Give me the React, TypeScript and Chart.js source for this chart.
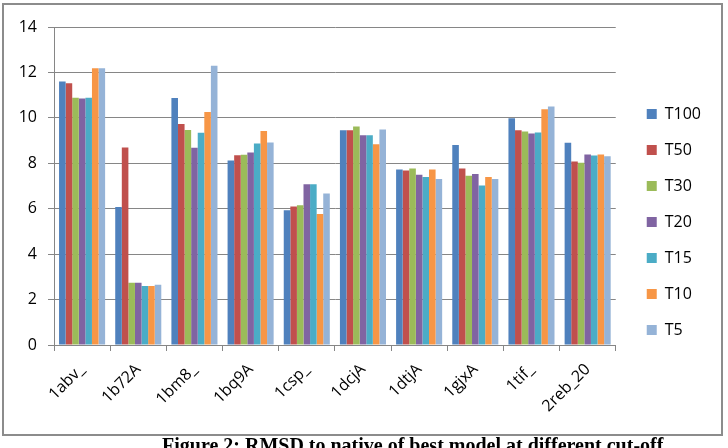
import React, { useEffect, useRef } from "react";
import { Chart, registerables } from "chart.js";

Chart.register(...registerables);

const categories = ["1abv_", "1b72A", "1bm8_", "1bq9A", "1csp_", "1dcjA", "1dtjA", "1gjxA", "1tif_", "2reb_20"];
const seriesNames = ["T100", "T50", "T30", "T20", "T15", "T10", "T5"];
const T100 = [11.6, 6.07, 10.87, 8.12, 5.93, 9.45, 7.73, 8.8, 9.98, 8.9];
const T50 = [11.52, 8.7, 9.73, 8.35, 6.1, 9.45, 7.68, 7.77, 9.45, 8.08];
const T30 = [10.89, 2.74, 9.47, 8.38, 6.15, 9.62, 7.77, 7.45, 9.4, 8.02];
const T20 = [10.85, 2.74, 8.68, 8.48, 7.08, 9.23, 7.5, 7.53, 9.31, 8.39];
const T15 = [10.89, 2.6, 9.34, 8.87, 7.08, 9.23, 7.4, 7.02, 9.35, 8.34];
const T10 = [12.18, 2.6, 10.26, 9.42, 5.77, 8.84, 7.73, 7.4, 10.38, 8.39];
const T5 = [12.18, 2.65, 12.29, 8.92, 6.67, 9.49, 7.31, 7.31, 10.5, 8.31];
const seriesValues = [T100, T50, T30, T20, T15, T10, T5];
const seriesColors = ["#4F81BD", "#C0504D", "#9BBB59", "#8064A2", "#4BACC6", "#F79646", "#95B3D7"];
const yTicks = [0, 2, 4, 6, 8, 10, 12, 14];
const caption = "Figure 2: RMSD to native of best model at different cut-off";

const FONT = "'Open Sans', 'Liberation Sans', sans-serif";

export default function App() {
  const canvasRef = useRef<HTMLCanvasElement>(null);

  useEffect(() => {
    const canvas = canvasRef.current;
    if (!canvas) return;
    const chart = new Chart(canvas, {
      type: "bar",
      data: {
        labels: categories,
        datasets: seriesNames.map((name, i) => ({
          label: name,
          data: seriesValues[i],
          backgroundColor: seriesColors[i],
          borderWidth: 0,
          barPercentage: 1.0,
          categoryPercentage: 0.82,
        })),
      },
      options: {
        animation: false,
        responsive: false,
        maintainAspectRatio: false,
        layout: { padding: { left: 4, top: 27, right: 17, bottom: 31 } },
        plugins: {
          legend: {
            position: "right",
            labels: {
              boxWidth: 10,
              boxHeight: 10,
              padding: 20,
              color: "#000",
              font: { family: FONT, size: 16 },
            },
          },
          tooltip: { enabled: false },
        },
        scales: {
          x: {
            grid: {
              display: true,
              drawOnChartArea: false,
              drawTicks: true,
              tickLength: 6,
              color: "#868686",
              offset: true,
            },
            border: { display: true, color: "#868686", width: 1 },
            ticks: {
              color: "#000",
              font: { family: FONT, size: 16 },
              minRotation: 45,
              maxRotation: 45,
              padding: 9,
            },
            afterFit: (s: any) => {
              s.height = 72;
            },
          },
          y: {
            min: 0,
            max: 14,
            afterBuildTicks: (s: any) => {
              s.ticks = yTicks.map((v) => ({ value: v }));
            },
            grid: {
              color: "#868686",
              tickLength: 6,
            },
            border: { display: true, color: "#868686", width: 1 },
            ticks: {
              color: "#000",
              font: { family: FONT, size: 16 },
              padding: 11,
            },
            afterFit: (s: any) => {
              s.width = 50;
            },
          },
          y2: {
            position: "right",
            display: true,
            grid: { display: false, drawTicks: false },
            border: { display: false },
            ticks: { display: false },
            afterFit: (s: any) => {
              s.width = 11;
            },
          },
        },
      },
    });
    return () => chart.destroy();
  }, []);

  return (
    <div style={{ position: "absolute", left: 0, top: 0, width: 728, height: 448, overflow: "hidden", background: "#fff" }}>
      <div
        style={{
          position: "absolute",
          left: 2,
          top: 3,
          width: 717,
          height: 429,
          border: "2px solid #8c8c8c",
        }}
      />
      <canvas ref={canvasRef} width={728} height={448} style={{ position: "absolute", left: 0, top: 0 }} />
      <div
        style={{
          position: "absolute",
          left: 0,
          width: 728,
          top: 435,
          fontFamily: "'Liberation Serif', serif",
          fontWeight: "bold",
          fontSize: 20,
          lineHeight: "20px",
          whiteSpace: "nowrap",
          paddingLeft: 162,
          color: "#000",
        }}
      >
        {caption}
      </div>
    </div>
  );
}
